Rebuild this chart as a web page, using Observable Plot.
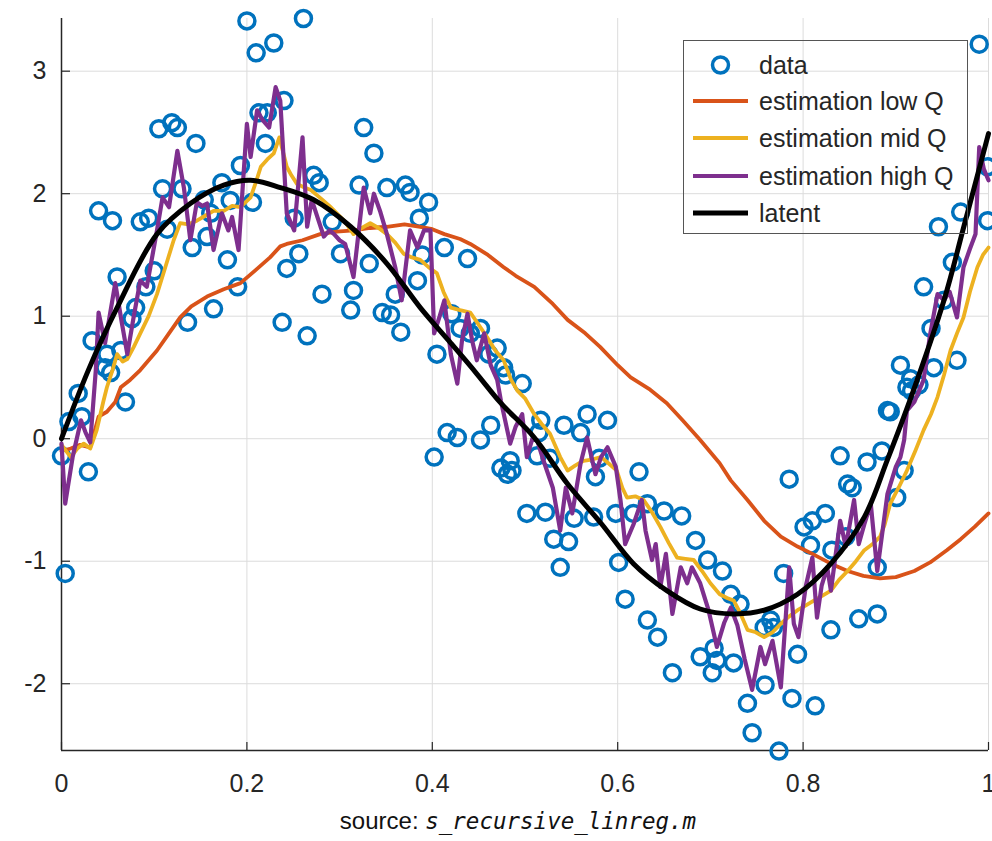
<!DOCTYPE html>
<html>
<head>
<meta charset="utf-8">
<script src="https://cdn.jsdelivr.net/npm/d3@7"></script>
<script src="https://cdn.jsdelivr.net/npm/@observablehq/plot@0.6"></script>
<style>
  html, body { margin: 0; padding: 0; background: #fff; }
  #wrap { position: relative; width: 992px; }
  #caption { width: 992px; box-sizing: border-box; padding-left: 44px; text-align: center;
    font-family: "Liberation Sans", Arial, sans-serif; font-size: 24px; color: #111; line-height: 41px; }
  #caption .fn { font-family: "DejaVu Sans Mono", monospace; font-style: italic; font-size: 22.5px; }
  #legend { position: absolute; left: 683px; top: 40px; width: 285px; height: 194px; box-sizing: border-box;
    border: 1.5px solid #555; font-family: "Liberation Sans", Arial, sans-serif; font-size: 25px; color: #262626; }
  #legend .row { position: absolute; left: 0; height: 30px; display: flex; align-items: center; }
  #legend svg { margin-left: 9px; margin-right: 11px; }
</style>
</head>
<body>
<div id="wrap"></div>
<div id="caption">source: <span class="fn">s_recursive_linreg.m</span></div>
<script>
// ---- data ----
const dataX = [0.000,0.004,0.008,0.018,0.022,0.029,0.033,0.040,0.047,0.049,0.053,0.055,0.060,0.064,0.069,0.076,0.080,0.085,0.091,0.094,
  0.100,0.105,0.109,0.114,0.119,0.125,0.130,0.136,0.141,0.145,0.154,0.157,0.161,0.164,0.173,0.179,0.182,0.190,0.193,0.200,
  0.206,0.210,0.213,0.220,0.222,0.229,0.238,0.240,0.243,0.251,0.256,0.261,0.265,0.272,0.278,0.281,0.292,0.301,0.312,0.315,
  0.321,0.326,0.332,0.337,0.346,0.351,0.355,0.360,0.366,0.371,0.376,0.384,0.386,0.389,0.396,0.402,0.405,0.413,0.416,0.421,
  0.427,0.430,0.438,0.441,0.452,0.452,0.461,0.463,0.470,0.474,0.477,0.479,0.481,0.484,0.486,0.497,0.502,0.513,0.515,0.517,
  0.522,0.527,0.531,0.538,0.542,0.547,0.553,0.560,0.567,0.574,0.576,0.580,0.589,0.598,0.601,0.608,0.617,0.623,0.632,0.632,
  0.643,0.650,0.659,0.669,0.684,0.689,0.697,0.702,0.704,0.707,0.713,0.722,0.725,0.732,0.740,0.745,0.758,0.759,0.765,0.768,
  0.774,0.779,0.785,0.788,0.794,0.801,0.808,0.810,0.813,0.824,0.830,0.831,0.840,0.846,0.848,0.853,0.860,0.869,0.880,0.880,
  0.885,0.891,0.894,0.901,0.905,0.909,0.912,0.916,0.917,0.925,0.930,0.938,0.941,0.946,0.952,0.961,0.966,0.970,0.990,0.999,0.999];
const dataY = [-0.14,-1.10,0.14,0.37,0.18,-0.27,0.80,1.86,0.58,0.69,0.54,1.78,1.32,0.72,0.30,0.98,1.07,1.77,1.24,1.80,
  1.37,2.53,2.04,1.71,2.58,2.54,2.04,0.95,1.56,2.41,1.95,1.65,1.84,1.06,2.09,1.46,1.945,1.24,2.23,3.41,
  1.93,3.15,2.66,2.41,2.66,3.23,0.95,2.76,1.39,1.80,1.51,3.43,0.84,2.15,2.09,1.18,1.77,1.51,1.05,1.21,
  2.07,2.54,1.43,2.33,1.03,2.05,1.01,1.18,0.87,2.07,2.01,1.29,1.80,1.50,1.93,-0.15,0.69,1.56,0.05,1.02,
  0.01,0.90,1.47,0.86,0.90,-0.01,0.69,0.11,0.74,-0.24,0.58,0.52,-0.29,-0.18,-0.26,0.45,-0.61,-0.14,0.05,0.15,
  -0.60,-0.16,-0.82,-1.05,0.11,-0.84,-0.65,0.05,0.20,-0.64,-0.31,-0.16,0.15,-0.61,-1.01,-1.31,-0.61,-0.27,-0.53,-1.48,
  -1.62,-0.59,-1.91,-0.63,-0.83,-1.78,-0.99,-1.91,-1.71,-1.81,-1.08,-1.27,-1.83,-1.35,-2.16,-2.40,-1.54,-2.01,-1.48,-1.54,
  -2.55,-1.10,-0.33,-2.12,-1.76,-0.72,-0.87,-0.67,-2.18,-0.61,-1.56,-0.91,-0.14,-0.80,-0.37,-0.40,-1.47,-0.19,-1.43,-1.05,
  -0.10,0.23,0.22,-0.48,0.60,-0.26,0.42,0.49,0.39,0.44,1.24,0.90,0.58,1.73,1.13,1.44,0.64,1.85,3.22,2.22,1.78];

const lowX = [0,0.010,0.020,0.031,0.040,0.049,0.058,0.064,0.074,0.085,0.103,0.115,0.128,0.140,0.157,0.175,0.193,0.210,0.225,0.236,
  0.243,0.260,0.279,0.297,0.315,0.333,0.351,0.370,0.387,0.400,0.413,0.430,0.441,0.460,0.477,0.490,0.510,0.530,0.546,0.565,
  0.581,0.600,0.614,0.635,0.653,0.670,0.689,0.710,0.722,0.740,0.758,0.776,0.794,0.810,0.830,0.848,0.865,0.883,0.900,0.920,
  0.937,0.955,0.970,0.985,1.000];
const lowY = [-0.10,-0.08,-0.05,-0.07,0.18,0.22,0.30,0.42,0.48,0.56,0.72,0.85,0.99,1.08,1.16,1.22,1.27,1.38,1.48,1.57,
  1.59,1.62,1.67,1.69,1.70,1.72,1.73,1.75,1.73,1.71,1.67,1.63,1.59,1.50,1.40,1.33,1.24,1.10,0.97,0.86,
  0.75,0.60,0.50,0.40,0.29,0.15,-0.01,-0.20,-0.34,-0.50,-0.67,-0.80,-0.88,-0.94,-1.02,-1.08,-1.12,-1.14,-1.13,-1.08,
  -1.01,-0.91,-0.82,-0.72,-0.61];

const midX = [0,0.010,0.017,0.024,0.031,0.038,0.045,0.049,0.055,0.060,0.066,0.071,0.078,0.085,0.094,0.103,0.112,0.121,0.128,0.137,
  0.146,0.155,0.164,0.175,0.184,0.193,0.204,0.210,0.215,0.222,0.229,0.235,0.243,0.248,0.254,0.262,0.269,0.280,0.289,0.297,
  0.306,0.315,0.324,0.333,0.342,0.351,0.360,0.369,0.378,0.387,0.396,0.405,0.412,0.420,0.430,0.441,0.450,0.459,0.468,0.477,
  0.485,0.492,0.500,0.510,0.518,0.527,0.538,0.546,0.554,0.563,0.572,0.582,0.590,0.599,0.605,0.610,0.619,0.628,0.637,0.646,
  0.655,0.664,0.673,0.682,0.691,0.700,0.710,0.718,0.725,0.732,0.740,0.749,0.758,0.767,0.776,0.785,0.794,0.803,0.812,0.821,
  0.830,0.839,0.848,0.857,0.866,0.875,0.883,0.888,0.894,0.903,0.912,0.921,0.930,0.938,0.945,0.952,0.959,0.966,0.973,0.980,
  0.988,0.994,1.000];
const midY = [-0.05,-0.15,-0.08,-0.04,-0.08,0.07,0.30,0.42,0.56,0.69,0.63,0.65,0.75,0.86,1.00,1.18,1.40,1.62,1.76,1.75,
  1.78,1.82,1.86,1.86,1.90,1.89,1.97,2.10,2.22,2.28,2.33,2.46,2.22,2.15,2.08,2.05,2.03,1.96,1.90,1.84,
  1.77,1.67,1.72,1.76,1.72,1.67,1.60,1.51,1.48,1.46,1.40,1.35,1.20,1.07,1.05,1.03,0.93,0.83,0.72,0.64,
  0.48,0.39,0.33,0.20,0.12,0.04,-0.15,-0.26,-0.22,-0.18,-0.17,-0.15,-0.20,-0.26,-0.40,-0.48,-0.47,-0.50,-0.60,-0.72,
  -0.85,-0.97,-0.98,-0.99,-1.08,-1.18,-1.27,-1.30,-1.32,-1.42,-1.56,-1.58,-1.62,-1.58,-1.51,-1.45,-1.40,-1.36,-1.32,-1.28,
  -1.24,-1.15,-1.08,-1.00,-0.91,-0.86,-0.80,-0.70,-0.53,-0.40,-0.26,-0.10,0.07,0.20,0.34,0.52,0.72,0.86,0.99,1.20,
  1.40,1.50,1.56];

const highX = [0,0.004,0.012,0.021,0.026,0.031,0.037,0.040,0.047,0.058,0.065,0.071,0.078,0.085,0.092,0.103,0.109,0.116,0.125,0.132,
  0.139,0.146,0.152,0.157,0.164,0.173,0.180,0.184,0.191,0.200,0.204,0.211,0.217,0.224,0.231,0.236,0.243,0.251,0.260,0.265,
  0.270,0.276,0.283,0.289,0.294,0.300,0.306,0.315,0.326,0.333,0.337,0.344,0.351,0.360,0.367,0.376,0.384,0.391,0.398,0.402,
  0.408,0.413,0.420,0.427,0.432,0.438,0.443,0.448,0.456,0.463,0.470,0.474,0.484,0.490,0.497,0.502,0.508,0.513,0.520,0.530,
  0.538,0.544,0.551,0.560,0.567,0.576,0.582,0.589,0.598,0.603,0.608,0.617,0.626,0.630,0.637,0.641,0.646,0.652,0.659,0.668,
  0.675,0.680,0.689,0.698,0.707,0.715,0.722,0.729,0.737,0.745,0.754,0.759,0.767,0.776,0.785,0.790,0.795,0.803,0.810,0.815,
  0.820,0.826,0.830,0.840,0.846,0.855,0.860,0.866,0.873,0.880,0.891,0.900,0.905,0.909,0.912,0.920,0.930,0.937,0.945,0.952,
  0.958,0.966,0.973,0.980,0.986,0.990,0.995,1.000];
const highY = [-0.04,-0.53,-0.15,0.15,0.05,-0.03,0.56,1.03,0.78,1.27,0.95,0.69,1.00,1.29,1.24,1.70,1.97,1.89,2.35,2.05,
  1.62,1.93,1.90,1.92,1.54,1.84,1.70,1.81,1.54,2.57,2.30,2.68,2.60,2.54,2.87,2.76,1.84,1.70,2.46,1.73,
  1.95,1.81,1.65,1.70,1.67,1.62,1.59,1.32,2.05,1.84,2.00,1.85,1.67,1.40,1.13,1.70,1.56,1.70,1.70,0.86,
  1.00,1.13,0.69,0.45,0.80,1.02,0.80,0.64,0.86,0.60,0.48,0.31,-0.04,0.10,0.20,-0.15,0.00,-0.01,-0.18,-0.40,
  -0.75,-0.40,-0.61,-0.20,0.01,-0.29,-0.15,-0.07,-0.23,-0.50,-0.86,-0.70,-0.50,-0.75,-0.99,-0.86,-1.21,-0.94,-1.43,-1.05,
  -1.18,-1.05,-1.18,-1.40,-1.70,-1.50,-1.38,-1.52,-1.80,-2.05,-1.70,-1.84,-1.65,-2.03,-1.05,-1.51,-1.62,-1.20,-0.97,-1.46,
  -1.20,-1.05,-1.24,-0.67,-0.88,-0.50,-0.86,-0.70,-0.53,-1.08,-0.45,-0.23,-0.15,-0.01,0.23,0.30,0.48,0.85,1.18,1.13,
  1.20,0.99,1.40,1.55,1.67,2.38,2.20,2.11];

const latentX = [0,0.029,0.060,0.103,0.139,0.175,0.204,0.236,0.272,0.312,0.351,0.387,0.420,0.448,0.474,0.510,0.546,0.582,0.617,0.653,
  0.689,0.725,0.758,0.794,0.830,0.866,0.891,0.916,0.952,0.973,1.000];
const latentY = [0.00,0.56,1.07,1.67,1.92,2.07,2.11,2.05,1.95,1.73,1.43,1.07,0.78,0.53,0.29,0.01,-0.37,-0.69,-1.02,-1.24,
  -1.39,-1.43,-1.40,-1.27,-1.02,-0.64,-0.17,0.33,1.13,1.72,2.49];

const xTicks = [0, 0.2, 0.4, 0.6, 0.8, 1];
const yTicks = [-2, -1, 0, 1, 2, 3];
const xDomain = [0, 1];
const yDomain = [-2.545, 3.43];

const seriesNames = ["data", "estimation low Q", "estimation mid Q", "estimation high Q", "latent"];
const seriesColors = ["#0072BD", "#D95319", "#EDB120", "#7E2F8E", "#000000"];
const lineWidths = [3.5, 3.8, 3.8, 4.2, 5];

// ---- tables ----
const pts = dataX.map((x, i) => ({x, y: dataY[i]}));
const toRows = (xs, ys) => xs.map((x, i) => ({x, y: ys[i]}));
const low = toRows(lowX, lowY), mid = toRows(midX, midY), high = toRows(highX, highY), latent = toRows(latentX, latentY);

const axisColor = "#262626";
const fmt = d => String(d);

const chart = Plot.plot({
  width: 992,
  height: 800,
  marginLeft: 61,
  marginRight: 4,
  marginTop: 18,
  marginBottom: 50,
  x: {domain: xDomain, label: null},
  y: {domain: yDomain, label: null},
  style: {fontFamily: "'Liberation Sans', Arial, sans-serif", fontSize: "25px", color: axisColor, background: "white", overflow: "visible"},
  marks: [
    Plot.ruleX(xTicks.slice(1), {stroke: "#dcdcdc", strokeWidth: 1}),
    Plot.ruleY(yTicks, {stroke: "#dcdcdc", strokeWidth: 1}),
    Plot.ruleX([xDomain[0]], {stroke: axisColor, strokeWidth: 1.5}),
    Plot.ruleY([yDomain[0]], {stroke: axisColor, strokeWidth: 1.5}),
    // inward ticks
    Plot.axisX(xTicks, {tickSize: 8, dy: -8, fill: "none", stroke: axisColor, strokeWidth: 1.2, label: null}),
    Plot.axisY(yTicks, {tickSize: 9, dx: 9, fill: "none", stroke: axisColor, strokeWidth: 1.2, label: null}),
    // tick labels
    Plot.axisX(xTicks, {tickSize: 0, tickPadding: 24, stroke: "none", fill: axisColor, fontSize: 25, tickFormat: fmt, label: null}),
    Plot.axisY(yTicks, {tickSize: 0, tickPadding: 15, stroke: "none", fill: axisColor, fontSize: 25, tickFormat: fmt, label: null}),
    // series
    Plot.dot(pts, {x: "x", y: "y", r: 8, fill: "none", stroke: seriesColors[0], strokeWidth: lineWidths[0]}),
    Plot.line(low, {x: "x", y: "y", stroke: seriesColors[1], strokeWidth: lineWidths[1]}),
    Plot.line(mid, {x: "x", y: "y", stroke: seriesColors[2], strokeWidth: lineWidths[2]}),
    Plot.line(high, {x: "x", y: "y", stroke: seriesColors[3], strokeWidth: lineWidths[3]}),
    Plot.line(latent, {x: "x", y: "y", stroke: seriesColors[4], strokeWidth: lineWidths[4], curve: "catmull-rom"})
  ]
});

const wrap = document.getElementById("wrap");
wrap.appendChild(chart);

// ---- legend (HTML overlay) ----
const legend = document.createElement("div");
legend.id = "legend";
const rowTops = [24, 60, 97, 135, 172];
seriesNames.forEach((name, i) => {
  const row = document.createElement("div");
  row.className = "row";
  row.style.top = (rowTops[i] - 15) + "px";
  const ns = "http://www.w3.org/2000/svg";
  const s = document.createElementNS(ns, "svg");
  s.setAttribute("width", 55); s.setAttribute("height", 30);
  if (i === 0) {
    const c = document.createElementNS(ns, "circle");
    c.setAttribute("cx", 27.5); c.setAttribute("cy", 15); c.setAttribute("r", 8);
    c.setAttribute("fill", "none"); c.setAttribute("stroke", seriesColors[i]); c.setAttribute("stroke-width", lineWidths[i]);
    s.appendChild(c);
  } else {
    const l = document.createElementNS(ns, "line");
    l.setAttribute("x1", 0); l.setAttribute("x2", 55); l.setAttribute("y1", 15); l.setAttribute("y2", 15);
    l.setAttribute("stroke", seriesColors[i]); l.setAttribute("stroke-width", lineWidths[i]);
    s.appendChild(l);
  }
  row.appendChild(s);
  const t = document.createElement("span");
  t.textContent = name;
  row.appendChild(t);
  legend.appendChild(row);
});
wrap.appendChild(legend);
</script>
</body>
</html>
